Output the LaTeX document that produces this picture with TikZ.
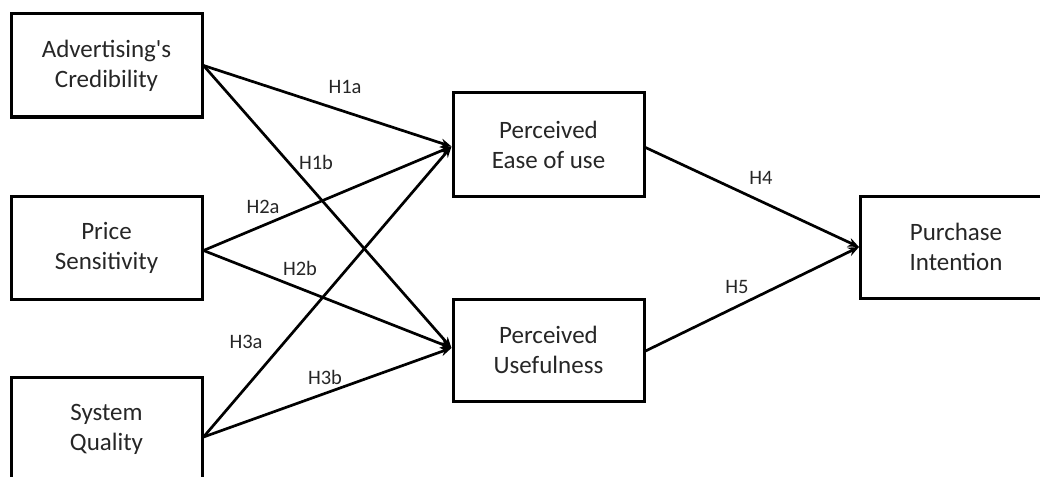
\documentclass[tikz,border=0pt]{standalone}
\usepackage{fontspec}
\setmainfont{Carlito}[Ligatures=TeXOff]
\usetikzlibrary{arrows.meta}
\begin{document}
\begin{tikzpicture}[x=1pt,y=-1pt,
  box/.style={draw=black, line width=3pt, minimum width=191pt, minimum height=103pt,
    inner sep=0pt, align=center, font=\fontsize{25}{30}\selectfont, text=black!85},
  conn/.style={line width=2.7pt, -{Stealth[length=11pt,width=9pt]}},
  hyp/.style={font=\fontsize{20.5}{24}\selectfont, text=black!85, inner sep=0pt}]
\useasboundingbox (0,0) rectangle (1040,476);
\begin{scope}
\clip (0,0) rectangle (1040,476);
\node[box] (adv) at (106.5,65.5) {Advertising's\\Credibility};
\node[box] (price) at (106.5,247.5) {Price\\Sensitivity};
\node[box] (sys) at (106.5,429) {System\\Quality};
\node[box] (peou) at (548.5,144.5) {Perceived\\Ease of use};
\node[box, minimum height=102pt] (pu) at (548.5,350) {Perceived\\Usefulness};
\node[box, minimum height=102pt] (pi) at (956,247) {Purchase\\Intention};
\end{scope}
\coordinate (advO) at (adv.east);
\coordinate (priceO) at ([yshift=-3pt]price.east);
\coordinate (sysO) at ([yshift=-8pt]sys.east);
\coordinate (peouI) at ([yshift=-2pt]peou.west);
\coordinate (puI) at ([yshift=2pt]pu.west);
\draw[conn] (advO) -- (peouI);
\draw[conn] (advO) -- (puI);
\draw[conn] (priceO) -- (peouI);
\draw[conn] (priceO) -- (puI);
\draw[conn] (sysO) -- (peouI);
\draw[conn] (sysO) -- (puI);
\draw[conn] ([yshift=-3pt]peou.east) -- (pi.west);
\draw[conn] ([yshift=-1pt]pu.east) -- (pi.west);
\node[hyp] (h1a) at (345,87) {H1a};
\node[hyp] (h1b) at (316,162) {H1b};
\node[hyp] (h2a) at (263,207) {H2a};
\node[hyp] (h2b) at (300,268) {H2b};
\node[hyp] (h3a) at (246,342) {H3a};
\node[hyp] (h3b) at (325,377) {H3b};
\node[hyp] (h4) at (761,178) {H4};
\node[hyp] (h5) at (737,287) {H5};
\end{tikzpicture}
\end{document}
